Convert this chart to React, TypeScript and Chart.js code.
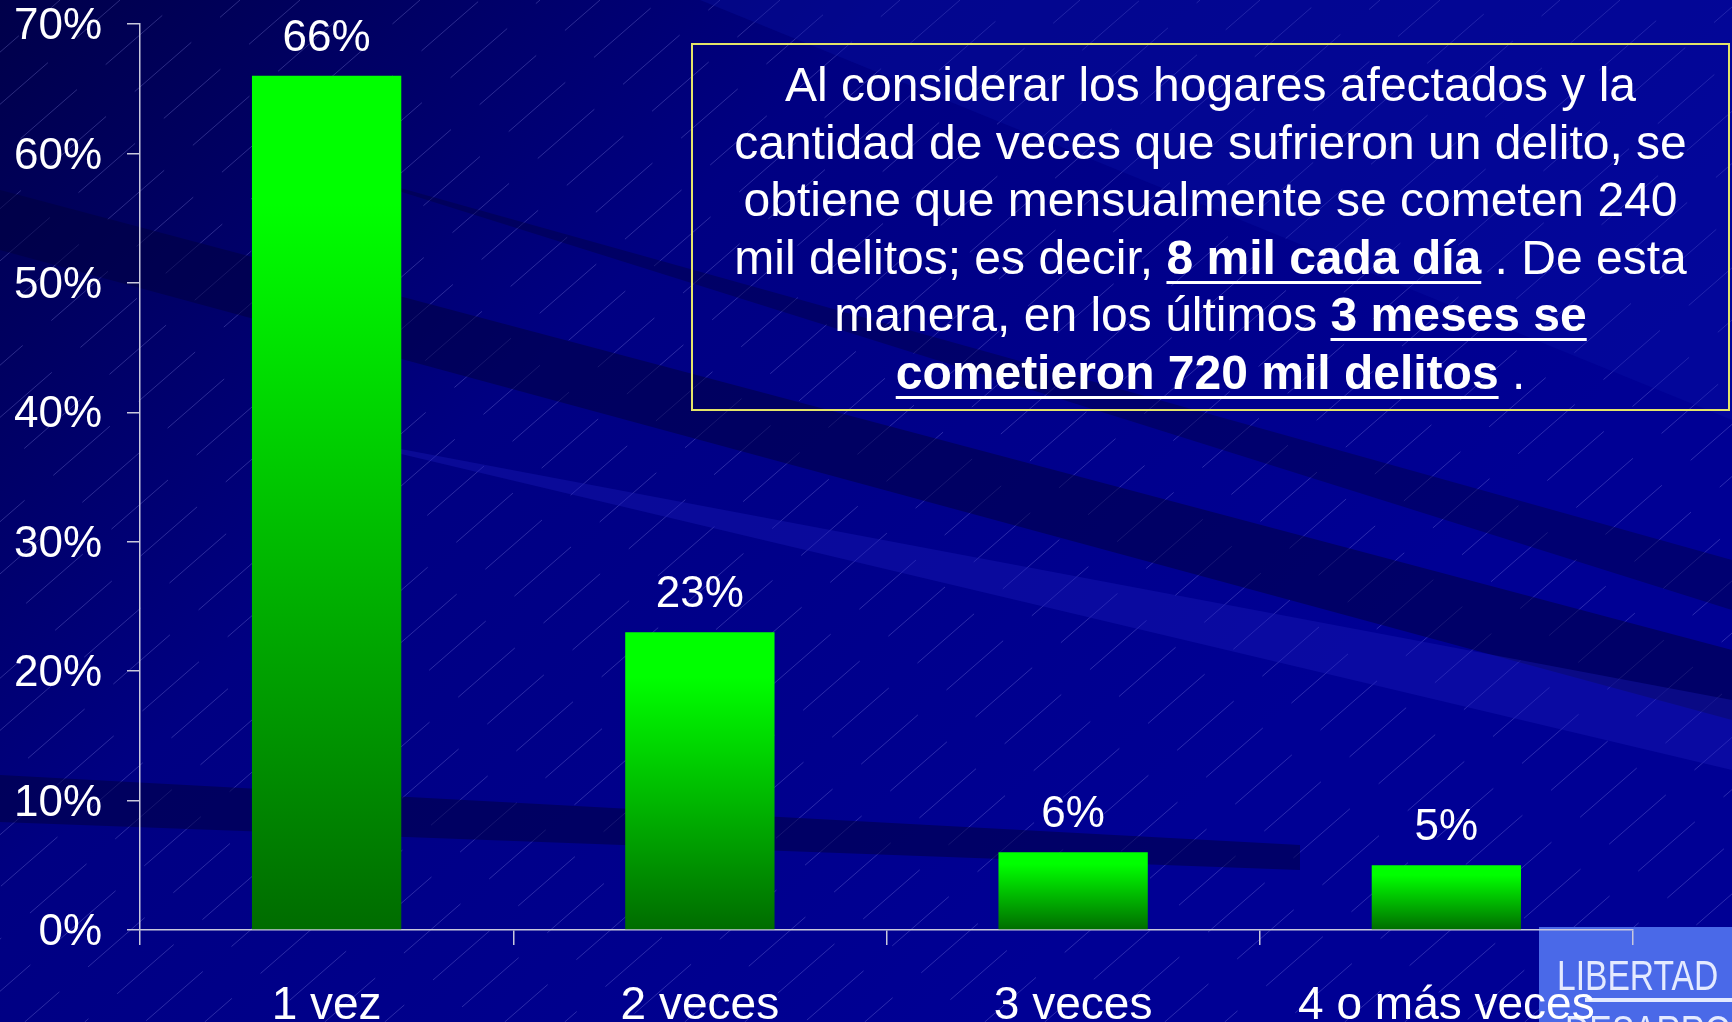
import React, { useEffect, useRef } from "react";
import { Chart, registerables } from "chart.js";

Chart.register(...registerables);

const categories = ["1 vez", "2 veces", "3 veces", "4 o más veces"];
const values = [66, 23, 6, 5];
const yMax = 70;
const yStep = 10;

const W = 1732;
const H = 1022;
const FONT = "'Liberation Sans', Arial, sans-serif";

const bgPlugin = {
  id: "bgPlugin",
  beforeDraw(chart: any) {
    const ctx = chart.ctx as CanvasRenderingContext2D;
    ctx.save();
    const g = ctx.createLinearGradient(0, 0, 1000, 1000);
    g.addColorStop(0, "#00004a");
    g.addColorStop(0.45, "#000082");
    g.addColorStop(1, "#000094");
    ctx.fillStyle = g;
    ctx.fillRect(0, 0, W, H);

    const poly = (pts: number[][], color: string) => {
      ctx.beginPath();
      ctx.moveTo(pts[0][0], pts[0][1]);
      for (let i = 1; i < pts.length; i++) ctx.lineTo(pts[i][0], pts[i][1]);
      ctx.closePath();
      ctx.fillStyle = color;
      ctx.fill();
    };

    // hatch lines (under the streaks)
    ctx.save();
    ctx.beginPath();
    ctx.rect(0, 0, W, H);
    ctx.clip();
    ctx.strokeStyle = "rgba(170,170,255,0.26)";
    ctx.lineWidth = 1;
    const dx = H * 1.15;
    let k = 0;
    for (let x0 = -dx; x0 < W + 60; x0 += 60) {
      ctx.setLineDash([75, 38]);
      ctx.lineDashOffset = (k * 41) % 113;
      ctx.beginPath();
      ctx.moveTo(x0, H);
      ctx.lineTo(x0 + dx, 0);
      ctx.stroke();
      k++;
    }
    ctx.setLineDash([]);
    ctx.restore();

    // top right lighter area
    poly([[700, 0], [1732, 0], [1732, 420]], "rgba(10,20,170,0.3)");
    // dark streaks
    poly([[0, 190], [0, 250], [1732, 720], [1732, 650]], "rgba(0,0,60,0.5)");
    poly([[300, 160], [1732, 560], [1732, 610]], "rgba(0,0,60,0.4)");
    // light streak
    poly([[300, 430], [1732, 700], [1732, 770]], "rgba(30,30,190,0.35)");
    // dark horizontal band
    poly([[0, 775], [0, 822], [1300, 870], [1300, 845]], "rgba(0,0,60,0.5)");

    // logo box
    ctx.fillStyle = "#4a69e8";
    ctx.fillRect(1539, 927, W - 1539, H - 927);
    ctx.fillStyle = "#e4eaff";
    ctx.save();
    ctx.translate(1557, 990);
    ctx.scale(0.8, 1);
    ctx.font = `42px ${FONT}`;
    ctx.textAlign = "left";
    ctx.textBaseline = "alphabetic";
    ctx.fillText("LIBERTAD", 0, 0);
    ctx.fillText("DESARROLLO", 10, 55);
    ctx.restore();
    ctx.fillRect(1585, 998, W - 1585, 4);
    ctx.restore();
  },
};

const labelPlugin = {
  id: "labelPlugin",
  afterDatasetsDraw(chart: any) {
    const ctx = chart.ctx as CanvasRenderingContext2D;
    const meta = chart.getDatasetMeta(0);
    ctx.save();
    ctx.fillStyle = "#ffffff";
    ctx.font = `44px ${FONT}`;
    ctx.textAlign = "center";
    ctx.textBaseline = "alphabetic";
    meta.data.forEach((el: any, i: number) => {
      ctx.fillText(`${values[i]}%`, el.x, el.y - 25);
    });
    ctx.restore();
  },
};

function ChartView() {
  const ref = useRef<HTMLCanvasElement | null>(null);
  useEffect(() => {
    if (!ref.current) return;
    const chart = new Chart(ref.current, {
      type: "bar",
      data: {
        labels: categories,
        datasets: [
          {
            data: values,
            borderWidth: 0,
            barPercentage: 0.4,
            categoryPercentage: 1,
            backgroundColor: (c: any) => {
              const ch = c.chart;
              if (!ch.chartArea || c.dataIndex === undefined) return "#00ff00";
              const ys = ch.scales.y;
              const top = ys.getPixelForValue(values[c.dataIndex]);
              const bot = ys.getPixelForValue(0);
              const g = ch.ctx.createLinearGradient(0, top, 0, bot);
              g.addColorStop(0, "#00ff00");
              g.addColorStop(0.15, "#00ff00");
              g.addColorStop(1, "#006c00");
              return g;
            },
          },
        ],
      },
      options: {
        responsive: false,
        animation: false,
        devicePixelRatio: 1,
        layout: { padding: { top: 24, right: 99, left: 0, bottom: 0 } },
        plugins: { legend: { display: false }, tooltip: { enabled: false } },
        scales: {
          x: {
            offset: true,
            grid: {
              display: true,
              drawOnChartArea: false,
              offset: true,
              tickLength: 15,
              color: "#c8c8dc",
              lineWidth: 1.5,
            },
            border: { color: "#c8c8dc", width: 1.5 },
            ticks: { color: "#ffffff", font: { family: FONT, size: 46 }, padding: 34, maxRotation: 0, autoSkip: false },
            afterFit(s: any) {
              s.height = H - 930;
              s.paddingLeft = 0;
              s.paddingRight = 0;
            },
          },
          y: {
            min: 0,
            max: yMax,
            ticks: {
              stepSize: yStep,
              color: "#ffffff",
              font: { family: FONT, size: 44 },
              padding: 25,
              labelOffset: 3,
              callback: (v: any) => `${v}%`,
            },
            grid: { drawOnChartArea: false, tickLength: 13, color: "#c8c8dc", lineWidth: 1.5 },
            border: { color: "#c8c8dc", width: 1.5 },
            afterFit(s: any) {
              s.width = 140;
              s.paddingTop = 0;
              s.paddingBottom = 0;
            },
          },
        },
      },
      plugins: [bgPlugin, labelPlugin],
    });
    return () => chart.destroy();
  }, []);
  return <canvas ref={ref} width={W} height={H} style={{ display: "block", width: W, height: H }} />;
}

const boxLine: React.CSSProperties = { display: "block", whiteSpace: "nowrap" };
const u: React.CSSProperties = {
  fontWeight: "bold",
  textDecoration: "underline",
  textDecorationThickness: "3px",
  textUnderlineOffset: "7px",
};

export default function App() {
  return (
    <div style={{ position: "fixed", left: 0, top: 0, width: W, height: H, overflow: "hidden", background: "#000080" }}>
      <ChartView />
      <div
        style={{
          position: "absolute",
          left: 691,
          top: 43,
          width: 1039,
          height: 368,
          border: "2px solid #e4e468",
          boxSizing: "border-box",
          color: "#ffffff",
          fontFamily: FONT,
          fontSize: 48,
          lineHeight: "57.5px",
          textAlign: "center",
          paddingTop: 11,
        }}
      >
        <span style={boxLine}>Al considerar los hogares afectados y la</span>
        <span style={boxLine}>cantidad de veces que sufrieron un delito, se</span>
        <span style={boxLine}>obtiene que mensualmente se cometen 240</span>
        <span style={boxLine}>
          mil delitos; es decir, <span style={u}>8 mil cada día</span> . De esta
        </span>
        <span style={boxLine}>
          manera, en los últimos <span style={u}>3 meses se</span>
        </span>
        <span style={boxLine}>
          <span style={u}>cometieron 720 mil delitos</span> .
        </span>
      </div>
    </div>
  );
}
